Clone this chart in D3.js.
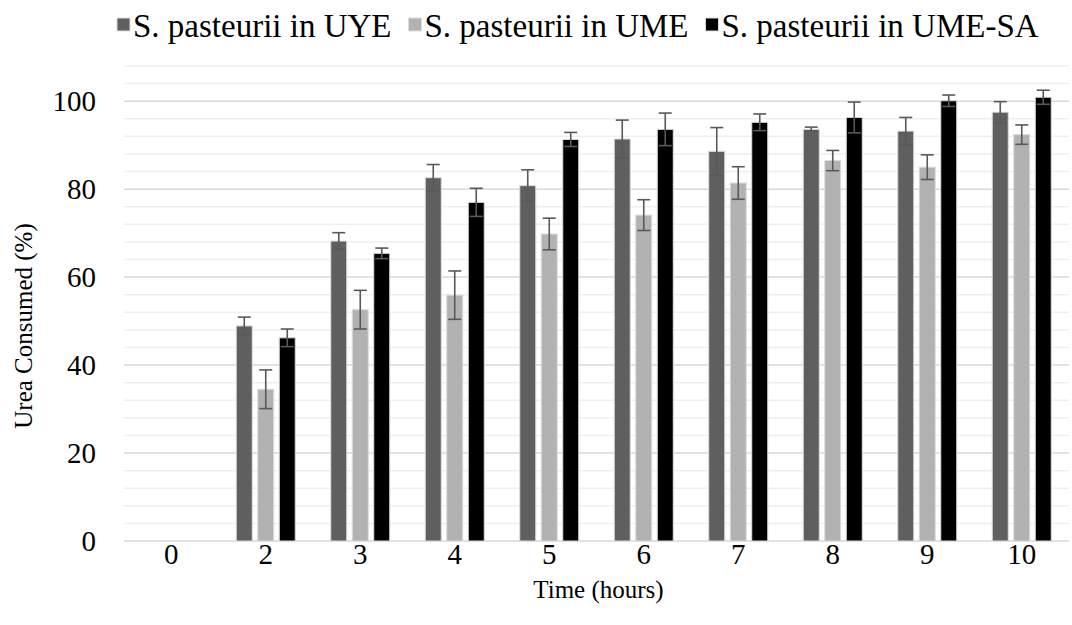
<!DOCTYPE html>
<html>
<head>
<meta charset="utf-8">
<script src="https://cdn.jsdelivr.net/npm/d3@7"></script>
<style>
  html, body { margin: 0; padding: 0; background: #fff; }
  svg { display: block; }
</style>
</head>
<body>
<svg id="chart" width="1072" height="625"></svg>
<script>
// Sampling times (hours)
const times = ["0", "2", "3", "4", "5", "6", "7", "8", "9", "10"];
const seriesNames = ["S. pasteurii in UYE", "S. pasteurii in UME", "S. pasteurii in UME-SA"];
const seriesColors = ["#5f5f5f", "#b2b2b2", "#000000"];

// Mean urea consumed (%)
const uyeMean   = [0, 48.9, 68.2, 82.6, 80.8, 91.4, 88.6, 93.6, 93.2, 97.5];
const umeMean   = [0, 34.5, 52.6, 55.9, 69.8, 74.1, 81.4, 86.5, 85.0, 92.4];
const umeSaMean = [0, 46.2, 65.4, 77.0, 91.3, 93.6, 95.2, 96.3, 100.1, 100.9];

// Standard deviations
const uyeErr   = [0, 2.0, 1.9, 3.0, 3.6, 4.3, 5.4, 0.5, 3.1, 2.4];
const umeErr   = [0, 4.4, 4.4, 5.5, 3.6, 3.5, 3.7, 2.3, 2.8, 2.2];
const umeSaErr = [0, 2.0, 1.2, 3.2, 1.6, 3.7, 1.9, 3.5, 1.3, 1.6];

const yTicks = [0, 20, 40, 60, 80, 100];

const means = [uyeMean, umeMean, umeSaMean];
const errs = [uyeErr, umeErr, umeSaErr];
const FONT = "'Liberation Serif', 'Times New Roman', serif";

const svg = d3.select("#chart");
const margin = { left: 124, right: 1069, top: 66, bottom: 541 };

const x = d3.scaleBand().domain(times).range([margin.left, margin.right]).padding(0);
const y = d3.scaleLinear().domain([0, 108]).range([margin.bottom, margin.top]);

const barStep = 21.5, barW = 16;
const xs = d3.scaleBand().domain(d3.range(3))
  .range([-barStep * 1.5, barStep * 1.5])
  .paddingInner((barStep - barW) / barStep)
  .paddingOuter((barStep - barW) / barStep / 2);

// Gridlines: minor every 4, major every 20
const minor = d3.range(4, 109, 4).filter(v => v % 20 !== 0);
svg.append("g").selectAll("line").data(minor).join("line")
  .attr("x1", margin.left).attr("x2", margin.right)
  .attr("y1", d => y(d)).attr("y2", d => y(d))
  .attr("stroke", "#efefef").attr("stroke-width", 1.5);
svg.append("g").selectAll("line").data(yTicks).join("line")
  .attr("x1", margin.left).attr("x2", margin.right)
  .attr("y1", d => y(d)).attr("y2", d => y(d))
  .attr("stroke", "#d9d9d9").attr("stroke-width", 1.5);

// Y axis labels
const yAxis = d3.axisLeft(y).tickValues(yTicks).tickSize(0).tickPadding(28);
const gy = svg.append("g").attr("transform", `translate(${margin.left},0)`).call(yAxis);
gy.select(".domain").remove();
gy.selectAll("text").style("font-size", "29px").style("font-family", FONT).attr("fill", "#000");

// X axis labels
const xAxis = d3.axisBottom(x).tickSize(0).tickPadding(2);
const gx = svg.append("g").attr("transform", `translate(0,${margin.bottom})`).call(xAxis);
gx.select(".domain").remove();
gx.selectAll("text").style("font-size", "29px").style("font-family", FONT).attr("fill", "#000");

// Bars
means.forEach((vals, s) => {
  const g = svg.append("g");
  g.selectAll("rect").data(vals.map((v, i) => ({ t: times[i], v })).filter(d => d.v > 0)).join("rect")
    .attr("x", d => x(d.t) + x.bandwidth() / 2 + xs(s))
    .attr("width", xs.bandwidth())
    .attr("y", d => y(d.v))
    .attr("height", d => y(0) - y(d.v))
    .attr("fill", seriesColors[s])
    .attr("stroke", "#dcdcdc").attr("stroke-width", 1);
});

// Error bars
means.forEach((vals, s) => {
  const data = vals.map((v, i) => ({ t: times[i], v, e: errs[s][i] })).filter(d => d.v > 0);
  const g = svg.append("g").attr("stroke", "#595959").attr("stroke-width", 1.6);
  const cx = d => x(d.t) + x.bandwidth() / 2 + xs(s) + xs.bandwidth() / 2;
  g.selectAll("line.v").data(data).join("line").attr("class", "v")
    .attr("x1", cx).attr("x2", cx)
    .attr("y1", d => y(d.v + d.e)).attr("y2", d => y(d.v - d.e));
  g.selectAll("line.t").data(data).join("line").attr("class", "t")
    .attr("x1", d => cx(d) - 6.5).attr("x2", d => cx(d) + 6.5)
    .attr("y1", d => y(d.v + d.e)).attr("y2", d => y(d.v + d.e));
  g.selectAll("line.b").data(data).join("line").attr("class", "b")
    .attr("x1", d => cx(d) - 6.5).attr("x2", d => cx(d) + 6.5)
    .attr("y1", d => y(d.v - d.e)).attr("y2", d => y(d.v - d.e));
});

// Axis titles
svg.append("text")
  .attr("x", (margin.left + margin.right) / 2 + 2).attr("y", 598)
  .attr("text-anchor", "middle").style("font-size", "25px").style("font-family", FONT)
  .text("Time (hours)");
svg.append("text")
  .attr("transform", "translate(32,326) rotate(-90)")
  .attr("text-anchor", "middle").style("font-size", "25px").style("font-family", FONT)
  .text("Urea Consumed (%)");

// Legend: swatch + label, laid out left to right
const legend = svg.append("g");
let lx = 117;
seriesNames.forEach((name, i) => {
  legend.append("rect").attr("x", lx).attr("y", 18).attr("width", 13).attr("height", 13)
    .attr("fill", seriesColors[i]).attr("stroke", "#dcdcdc").attr("stroke-width", 1);
  const t = legend.append("text").attr("x", lx + 16).attr("y", 37)
    .style("font-size", "33px").style("font-family", FONT).text(name);
  lx += 16 + t.node().getComputedTextLength() + 17;
});
</script>
</body>
</html>
